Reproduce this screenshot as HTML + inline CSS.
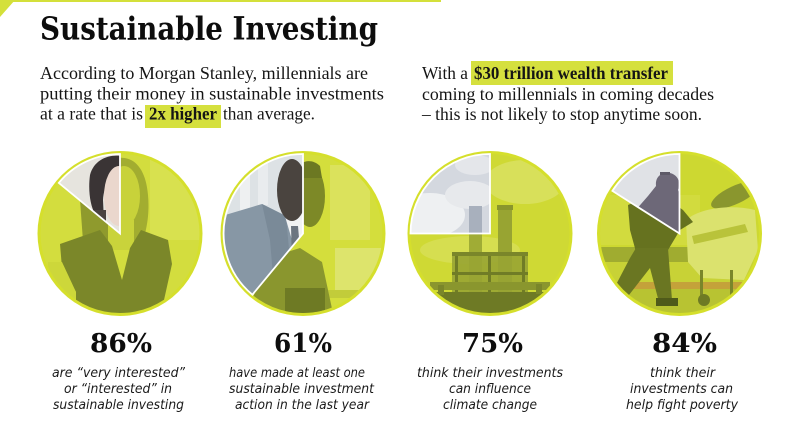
<!DOCTYPE html>
<html>
<head>
<meta charset="utf-8">
<style>
  html,body{margin:0;padding:0;background:#fff;}
  svg{display:block;}
  .body{font-family:"Liberation Serif","DejaVu Serif",serif;font-size:17.5px;fill:#151515;}
  .bold{font-weight:bold;}
  .title{font-family:"DejaVu Serif","Liberation Serif",serif;font-weight:bold;font-size:32px;fill:#0d0d0d;}
  .pct{font-family:"DejaVu Serif","Liberation Serif",serif;font-weight:bold;font-size:26px;fill:#0d0d0d;}
  .desc{font-family:"DejaVu Sans","Liberation Sans",sans-serif;font-style:italic;font-size:13.5px;fill:#1a1a1a;}
</style>
</head>
<body>
<svg width="796" height="424" viewBox="0 0 796 424" xmlns="http://www.w3.org/2000/svg">
  <defs>
    <clipPath id="c1"><circle cx="120" cy="233.5" r="79.5"/></clipPath>
    <clipPath id="c2"><circle cx="303" cy="233.5" r="79.5"/></clipPath>
    <clipPath id="c3"><circle cx="490" cy="233.5" r="79.5"/></clipPath>
    <clipPath id="c4"><circle cx="679.5" cy="233.5" r="79.5"/></clipPath>
    <clipPath id="w1"><path d="M120,233.5 L120,154 A79.5,79.5 0 0,0 58.8,182.9 Z"/></clipPath>
    <clipPath id="w2"><path d="M303,233.5 L303,154 A79.5,79.5 0 0,0 252.4,294.7 Z"/></clipPath>
    <clipPath id="w3"><path d="M490,233.5 L490,154 A79.5,79.5 0 0,0 410.5,233.5 Z"/></clipPath>
    <clipPath id="w4"><path d="M679.5,233.5 L679.5,154 A79.5,79.5 0 0,0 612.4,190.9 Z"/></clipPath>
  </defs>

  <!-- top decoration -->
  <rect x="0" y="0" width="441" height="2" fill="#d4e03a"/>
  <polygon points="0,0 15,0 0,17" fill="#d4e03a"/>

  <!-- title -->
  <text class="title" x="40" y="39.5" textLength="338" lengthAdjust="spacingAndGlyphs">Sustainable Investing</text>

  <!-- paragraph 1 -->
  <rect x="145" y="105" width="76" height="23" fill="#d5e03e"/>
  <text class="body" x="40" y="79" textLength="328" lengthAdjust="spacingAndGlyphs">According to Morgan Stanley, millennials are</text>
  <text class="body" x="40" y="99.5" textLength="344" lengthAdjust="spacingAndGlyphs">putting their money in sustainable investments</text>
  <text class="body" x="40" y="119.5" textLength="103" lengthAdjust="spacingAndGlyphs">at a rate that is</text>
  <text class="body bold" x="149" y="119.5" textLength="68" lengthAdjust="spacingAndGlyphs">2x higher</text>
  <text class="body" x="223" y="119.5" textLength="92" lengthAdjust="spacingAndGlyphs">than average.</text>

  <!-- paragraph 2 -->
  <rect x="471" y="61" width="202" height="24" fill="#d5e03e"/>
  <text class="body" x="422" y="79" textLength="46" lengthAdjust="spacingAndGlyphs">With a</text>
  <text class="body bold" x="474" y="79" textLength="194" lengthAdjust="spacingAndGlyphs">$30 trillion wealth transfer</text>
  <text class="body" x="422" y="100" textLength="292" lengthAdjust="spacingAndGlyphs">coming to millennials in coming decades</text>
  <text class="body" x="422" y="120" textLength="280" lengthAdjust="spacingAndGlyphs">– this is not likely to stop anytime soon.</text>

  <!-- ============ CIRCLE 1 ============ -->
  <circle cx="120" cy="233.5" r="82.5" fill="#d5df2c"/>
  <g clip-path="url(#c1)">
    <rect x="36" y="150" width="170" height="170" fill="#d3dd3e"/>
    <rect x="150" y="160" width="60" height="80" fill="#d8e14f"/>
    <path d="M118,158 C135,156 146,170 148,195 C150,215 146,235 140,248 L126,248 L122,200 Z" fill="#a2ad30"/>
    <path d="M80,200 L110,205 L112,250 L84,255 Z" fill="#8f9a2d"/>
    <ellipse cx="124" cy="196" rx="16" ry="30" fill="#c8d23a"/>
    <rect x="108" y="220" width="26" height="30" fill="#c9d33b"/>
    <path d="M60,244 L100,230 L112,246 L122,280 L130,248 L141,230 L168,240 L172,264 L164,300 L166,320 L76,320 L76,292 L62,268 Z" fill="#7b8729"/>
    <path d="M48,262 L62,262 L76,292 L76,320 L46,320 Z" fill="#cdd73a"/>
  </g>
  <g clip-path="url(#w1)">
    <rect x="50" y="150" width="75" height="90" fill="#e6e4de"/>
    <path d="M90,175 C94,160 108,154 122,156 L122,175 C110,175 104,185 103,200 L104,222 L95,214 C90,205 88,190 90,175 Z" fill="#3a3435"/>
    <ellipse cx="119" cy="196" rx="15" ry="30" fill="#ead7cd"/>
    <rect x="86" y="210" width="20" height="30" fill="#4a4340"/>
  </g>
  <path d="M120,233.5 L120,154 A79.5,79.5 0 0,0 58.8,182.9 Z" fill="none" stroke="#ffffff" stroke-width="1.8" stroke-linejoin="miter"/>

  <!-- ============ CIRCLE 2 ============ -->
  <circle cx="303" cy="233.5" r="82.5" fill="#d5df2c"/>
  <g clip-path="url(#c2)">
    <rect x="218" y="150" width="170" height="170" fill="#d4de3c"/>
    <rect x="330" y="165" width="40" height="75" fill="#dbe25c"/>
    <rect x="335" y="248" width="50" height="45" fill="#dde46c"/>
    <rect x="318" y="290" width="70" height="8" fill="#c2cc3a"/>
    <ellipse cx="310" cy="196" rx="15" ry="31" fill="#7d8927"/>
    <path d="M296,170 C300,160 312,158 320,166 L322,178 L300,178 Z" fill="#6c7822"/>
    <path d="M252,300 L268,258 L300,248 L322,262 L334,318 L255,318 Z" fill="#8a962e"/>
    <rect x="285" y="288" width="40" height="25" fill="#6e7a24"/>
  </g>
  <g clip-path="url(#w2)">
    <rect x="218" y="150" width="90" height="170" fill="#dde2e5"/>
    <rect x="240" y="160" width="10" height="55" fill="#eef0f1"/>
    <rect x="258" y="160" width="10" height="45" fill="#e9ecee"/>
    <path d="M222,216 L262,204 L286,216 L303,255 L303,310 L222,310 Z" fill="#8797a5"/>
    <path d="M262,204 L286,216 L290,260 L275,300 L270,240 Z" fill="#7a8a98"/>
    <polygon points="284,213 303,208 303,258 292,240" fill="#f1f2f3"/>
    <polygon points="291,226 298,226 301,262 292,264" fill="#6c7580"/>
    <ellipse cx="292" cy="190" rx="15" ry="31" fill="#4a443f"/>
  </g>
  <path d="M303,233.5 L303,154 A79.5,79.5 0 0,0 252.4,294.7 Z" fill="none" stroke="#ffffff" stroke-width="1.8"/>

  <!-- ============ CIRCLE 3 ============ -->
  <circle cx="490" cy="233.5" r="82.5" fill="#d5df2c"/>
  <g clip-path="url(#c3)">
    <rect x="405" y="150" width="170" height="170" fill="#cfd934"/>
    <ellipse cx="525" cy="182" rx="40" ry="22" fill="#d8e05a"/>
    <ellipse cx="470" cy="250" rx="50" ry="14" fill="#d6de50"/>
    <rect x="498" y="207" width="14" height="85" fill="#98a432"/>
    <rect x="497" y="205" width="16" height="5" fill="#8a962c"/>
    <rect x="469" y="233" width="13" height="60" fill="#a0ac35"/>
    <rect x="452" y="252" width="76" height="4" fill="#7a862a"/>
    <rect x="452" y="256" width="76" height="40" fill="#98a433" opacity="0.9"/>
    <rect x="455" y="256" width="3" height="40" fill="#707c26"/>
    <rect x="488" y="256" width="3" height="40" fill="#707c26"/>
    <rect x="522" y="256" width="3" height="40" fill="#707c26"/>
    <rect x="452" y="272" width="76" height="3" fill="#707c26"/>
    <rect x="430" y="282" width="120" height="8" fill="#8a962e"/>
    <polygon points="420,292 560,292 560,320 420,320" fill="#6e7a25"/>
    <rect x="438" y="285" width="6" height="10" fill="#7a862a"/>
    <rect x="536" y="284" width="6" height="10" fill="#7a862a"/>
  </g>
  <g clip-path="url(#w3)">
    <rect x="405" y="150" width="90" height="90" fill="#d4d8df"/>
    <ellipse cx="430" cy="215" rx="35" ry="22" fill="#eef0f2"/>
    <ellipse cx="470" cy="195" rx="25" ry="14" fill="#e7e9ec"/>
    <ellipse cx="475" cy="165" rx="20" ry="10" fill="#e4e6ea"/>
    <rect x="469" y="206" width="13" height="30" fill="#a8b0bd"/>
  </g>
  <path d="M490,233.5 L490,154 A79.5,79.5 0 0,0 410.5,233.5 Z" fill="none" stroke="#ffffff" stroke-width="1.8"/>

  <!-- ============ CIRCLE 4 ============ -->
  <circle cx="679.5" cy="233.5" r="82.5" fill="#d5df2c"/>
  <g clip-path="url(#c4)">
    <rect x="594" y="150" width="170" height="170" fill="#cdd831"/>
    <rect x="600" y="195" width="100" height="50" fill="#d2db3e"/>
    <rect x="600" y="247" width="110" height="15" fill="#a0ac30"/>
    <rect x="600" y="262" width="160" height="20" fill="#c8d236"/>
    <rect x="615" y="282" width="135" height="7" fill="#c4a23a"/>
    <rect x="594" y="289" width="170" height="35" fill="#b8c332"/>
    <ellipse cx="735" cy="195" rx="26" ry="9" transform="rotate(-25 735 195)" fill="#8a962e"/>
    <path d="M686,220 C700,208 730,204 755,210 L758,250 L744,280 L702,278 L688,262 Z" fill="#dbe26e"/>
    <path d="M692,236 L745,224 L748,232 L694,244 Z" fill="#b9c33a"/>
    <rect x="700" y="270" width="3" height="30" fill="#7a862a"/>
    <rect x="730" y="270" width="3" height="30" fill="#7a862a"/>
    <circle cx="704" cy="300" r="6" fill="#6e7a24"/>
    <circle cx="736" cy="300" r="5" fill="#6e7a24"/>
    <path d="M628,205 L658,192 L683,210 L693,222 L680,230 L668,250 L636,252 L630,230 Z" fill="#66721f"/>
    <path d="M636,248 L668,248 L672,300 L660,306 L650,268 L622,304 L608,300 L630,258 Z" fill="#6a7622"/>
    <rect x="656" y="298" width="22" height="8" fill="#4f5a1a"/>
  </g>
  <g clip-path="url(#w4)">
    <rect x="600" y="150" width="85" height="90" fill="#e0e2e6"/>
    <path d="M656,186 C655,176 662,172 670,173 C678,175 681,182 678,190 L688,212 L684,236 L640,236 L634,212 L648,196 Z" fill="#6d6878"/>
    <rect x="660" y="172" width="10" height="3" fill="#5e5a68"/>
  </g>
  <path d="M679.5,233.5 L679.5,154 A79.5,79.5 0 0,0 612.4,190.9 Z" fill="none" stroke="#ffffff" stroke-width="1.8"/>

  <!-- percentages -->
  <text class="pct" x="90" y="352" textLength="62" lengthAdjust="spacingAndGlyphs">86%</text>
  <text class="pct" x="274" y="352" textLength="58" lengthAdjust="spacingAndGlyphs">61%</text>
  <text class="pct" x="462" y="352" textLength="61" lengthAdjust="spacingAndGlyphs">75%</text>
  <text class="pct" x="652" y="352" textLength="65" lengthAdjust="spacingAndGlyphs">84%</text>

  <!-- descriptions -->
  <text class="desc" x="52" y="377" textLength="133" lengthAdjust="spacingAndGlyphs">are “very interested”</text>
  <text class="desc" x="64" y="393" textLength="108" lengthAdjust="spacingAndGlyphs">or “interested” in</text>
  <text class="desc" x="53" y="409" textLength="131" lengthAdjust="spacingAndGlyphs">sustainable investing</text>

  <text class="desc" x="229" y="377" textLength="136" lengthAdjust="spacingAndGlyphs">have made at least one</text>
  <text class="desc" x="229" y="393" textLength="145" lengthAdjust="spacingAndGlyphs">sustainable investment</text>
  <text class="desc" x="235" y="409" textLength="134" lengthAdjust="spacingAndGlyphs">action in the last year</text>

  <text class="desc" x="417" y="377" textLength="146" lengthAdjust="spacingAndGlyphs">think their investments</text>
  <text class="desc" x="449" y="393" textLength="82" lengthAdjust="spacingAndGlyphs">can influence</text>
  <text class="desc" x="443" y="409" textLength="94" lengthAdjust="spacingAndGlyphs">climate change</text>

  <text class="desc" x="650" y="377" textLength="65" lengthAdjust="spacingAndGlyphs">think their</text>
  <text class="desc" x="630" y="393" textLength="103" lengthAdjust="spacingAndGlyphs">investments can</text>
  <text class="desc" x="626" y="409" textLength="112" lengthAdjust="spacingAndGlyphs">help fight poverty</text>
</svg>
</body>
</html>
